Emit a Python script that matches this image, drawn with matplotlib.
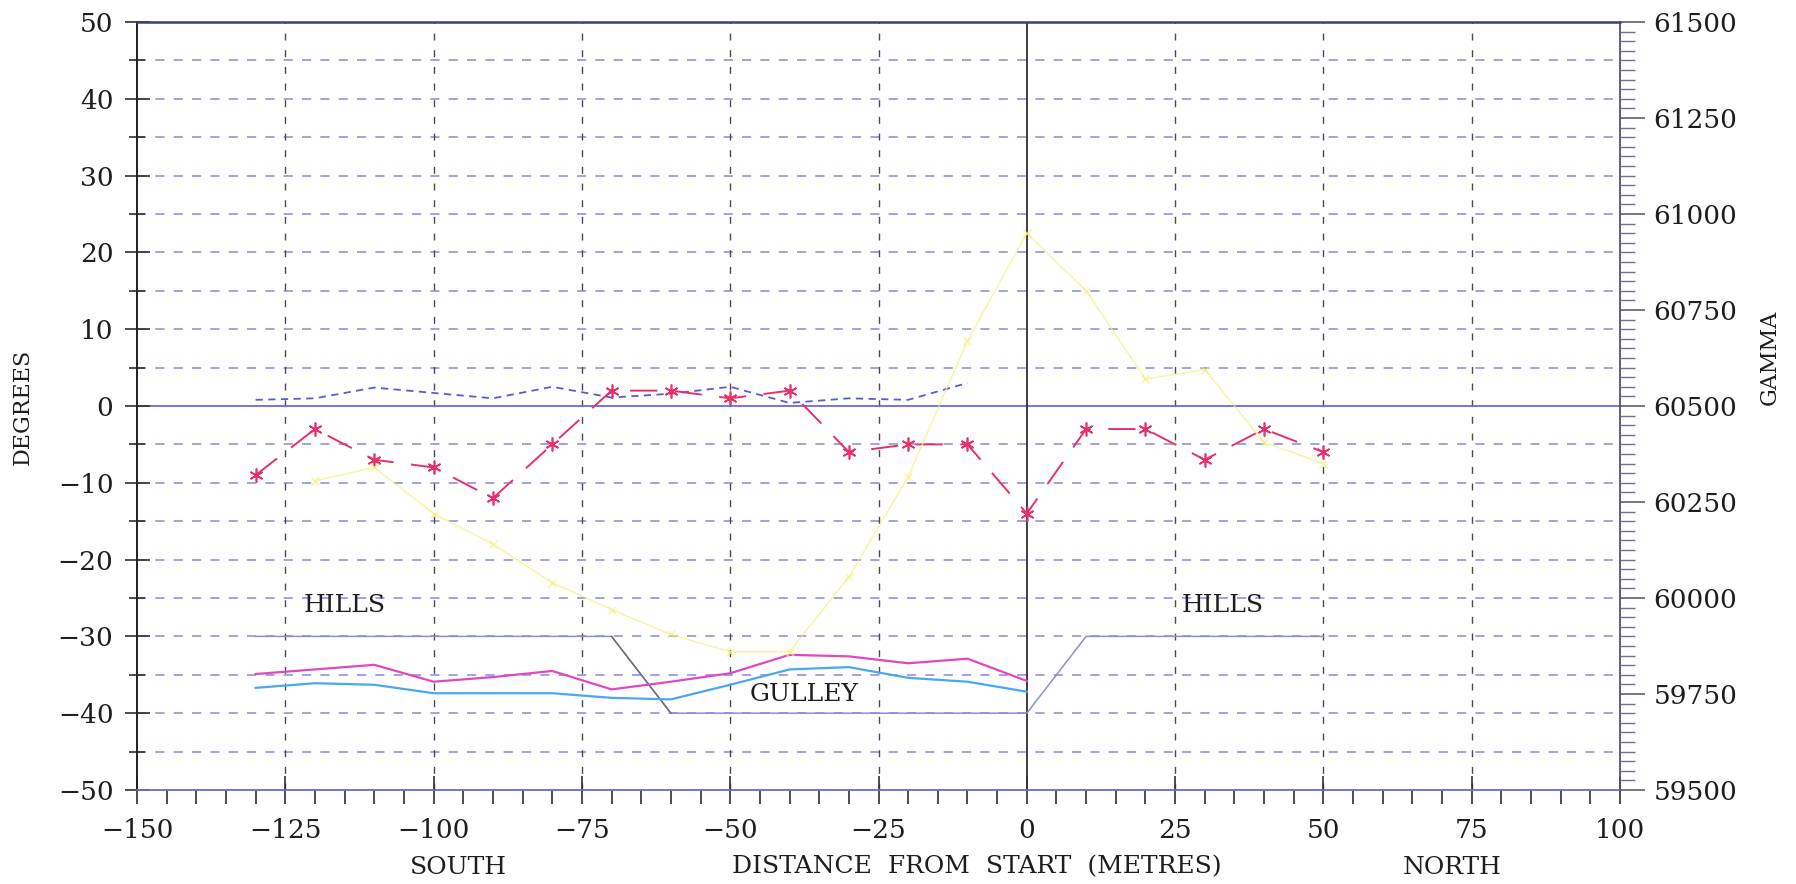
import matplotlib
matplotlib.use("Agg")
import matplotlib.pyplot as plt
from matplotlib.ticker import MultipleLocator, FixedLocator

# ---- data -------------------------------------------------------------
# stations along the traverse (metres from start)
stations = [-130, -120, -110, -100, -90, -80, -70, -60, -50, -40,
            -30, -20, -10, 0, 10, 20, 30, 40, 50]
# dip readings (degrees) with star markers
dip_deg = [-9, -3, -7, -8, -12, -5, 2, 2, 1, 2,
           -6, -5, -5, -14, -3, -3, -7, -3, -6]

# second angle series (degrees), dashed
incl_x = [-130, -120, -110, -100, -90, -80, -70, -60, -50, -40, -30, -20, -10]
incl_deg = [0.8, 1.0, 2.4, 1.7, 1.0, 2.5, 1.1, 1.6, 2.5, 0.4, 1.0, 0.8, 3.0]

# total field (gamma, right axis)
field_x = [-120, -110, -100, -90, -80, -70, -60, -50, -40,
           -30, -20, -10, 0, 10, 20, 30, 40, 50]
field_gamma = [60305, 60340, 60220, 60140, 60040, 59970, 59905, 59860, 59860,
               60055, 60315, 60670, 60950, 60800, 60570, 60595, 60405, 60350]

# two profile traces (degrees), solid
prof_x = [-130, -120, -110, -100, -90, -80, -70, -60, -50, -40, -30, -20, -10, 0]
prof_a = [-34.9, -34.3, -33.7, -35.9, -35.3, -34.5, -36.9, -35.9, -34.8,
          -32.4, -32.6, -33.5, -32.9, -35.8]
prof_b = [-36.7, -36.1, -36.3, -37.4, -37.4, -37.4, -38.0, -38.2, -36.3,
          -34.3, -34.0, -35.4, -35.9, -37.2]

# ground sketch: hills either side of the gulley
ground_x = [-130, -70, -60, 0, 10, 50]
ground_y = [-30, -30, -40, -40, -30, -30]

x_ticks = [-150, -125, -100, -75, -50, -25, 0, 25, 50, 75, 100]
y_ticks = [-50, -40, -30, -20, -10, 0, 10, 20, 30, 40, 50]
gamma_ticks = [59500, 59750, 60000, 60250, 60500, 60750, 61000, 61250, 61500]

# ---- figure -----------------------------------------------------------
W, H = 1796, 884
fig = plt.figure(figsize=(W / 100, H / 100), dpi=100)
fig.patch.set_facecolor("white")
L, R, T, B = 137, 1620, 22, 790
ax = fig.add_axes([L / W, 1 - B / H, (R - L) / W, (B - T) / H])
ax.set_xlim(-150, 100)
ax.set_ylim(-50, 50)

serif = "DejaVu Serif"
tick_fs = 19
ink = "#1e1e1e"

# grid
for yv in range(-45, 50, 5):
    if yv == 0:
        continue
    ax.axhline(yv, color="#8a86e0", lw=1.1, ls=(0, (6, 6)), zorder=1)
for xv in x_ticks[1:-1]:
    if xv == 0:
        continue
    ax.axvline(xv, color="#4a4a4a", lw=1.0, ls=(0, (5, 7)), zorder=1)
ax.axhline(0, color="#6a6ae0", lw=1.3, zorder=1.5)
ax.axvline(0, color="#303030", lw=1.3, zorder=1.5)

# ground sketch
ax.plot(ground_x, ground_y, color="#8e8ed8", lw=1.1, zorder=2)
ax.plot(ground_x[1:3], ground_y[1:3], color="#707070", lw=1.1, zorder=2.1)

# profile traces
ax.plot(prof_x, prof_a, color="#e048c0", lw=1.6, zorder=3)
ax.plot(prof_x, prof_b, color="#48a8f0", lw=1.6, zorder=3)

# dashed angle series
ax.plot(incl_x, incl_deg, color="#5a5ad8", lw=1.3, ls=(0, (4, 3)), zorder=3)

# dip with star markers
ax.plot(stations, dip_deg, color="#e6306a", lw=1.4, ls=(0, (14, 9)),
        marker=(6, 2, 0), ms=10, mew=1.2, mec="#e6306a", zorder=4)

# labels in the plot
for xt, yt, s in [(-115, -26, "HILLS"), (33, -26, "HILLS"),
                  (-37.5, -37.6, "GULLEY")]:
    ax.text(xt, yt, s, family=serif, fontsize=18, ha="center", va="center",
            color=ink, zorder=5)

# spines
for side, col, lw in [("left", "#202020", 1.4), ("bottom", "#6a6ad8", 1.3),
                      ("top", "#3c3c80", 1.8), ("right", "#505070", 1.3)]:
    ax.spines[side].set_color(col)
    ax.spines[side].set_linewidth(lw)

# left / bottom ticks
ax.xaxis.set_major_locator(FixedLocator(x_ticks))
ax.xaxis.set_minor_locator(MultipleLocator(5))
ax.yaxis.set_major_locator(FixedLocator(y_ticks))
ax.yaxis.set_minor_locator(MultipleLocator(5))
ax.tick_params(axis="x", which="major", direction="inout", length=20, width=1.2,
               color="#303030", pad=10, labelsize=tick_fs)
ax.tick_params(axis="x", which="minor", direction="out", length=10, width=1.2,
               color="#303030")
ax.tick_params(axis="y", which="major", direction="inout", length=18, width=1.2,
               color="#303030", pad=8, labelsize=tick_fs)
ax.tick_params(axis="y", which="minor", direction="inout", length=12, width=1.2,
               color="#303030")
for lab in ax.get_xticklabels() + ax.get_yticklabels():
    lab.set_family(serif)
    lab.set_color(ink)

# right axis (gamma)
ax2 = ax.twinx()
ax2.set_ylim(59500, 61500)
ax2.yaxis.set_major_locator(FixedLocator(gamma_ticks))
ax2.yaxis.set_minor_locator(MultipleLocator(25))
ax2.tick_params(axis="y", which="major", direction="out", length=18, width=1.1,
                color="#505070", pad=6, labelsize=tick_fs)
ax2.tick_params(axis="y", which="minor", direction="out", length=11, width=1.0,
                color="#7070a0")
for lab in ax2.get_yticklabels():
    lab.set_family(serif)
    lab.set_color(ink)
for side in ax2.spines:
    ax2.spines[side].set_visible(False)

# total field trace (pale yellow)
ax2.plot(field_x, field_gamma, color="#f4f27a", lw=1.0, marker="x", ms=6,
         mew=1.0, alpha=0.75, zorder=2)

# axis titles
fig.text(23 / W, 1 - 407 / H, "DEGREES", family=serif, fontsize=16,
         rotation=90, ha="center", va="center", color=ink)
fig.text(1770 / W, 1 - 357 / H, "GAMMA", family=serif, fontsize=16,
         rotation=90, ha="center", va="center", color=ink)
fig.text(458 / W, 1 - 867 / H, "SOUTH", family=serif, fontsize=18,
         ha="center", va="center", color=ink)
fig.text(977 / W, 1 - 867 / H, "DISTANCE  FROM  START  (METRES)", family=serif,
         fontsize=18, ha="center", va="center", color=ink)
fig.text(1452 / W, 1 - 867 / H, "NORTH", family=serif, fontsize=18,
         ha="center", va="center", color=ink)

fig.savefig("out.png", dpi=100, facecolor="white")
